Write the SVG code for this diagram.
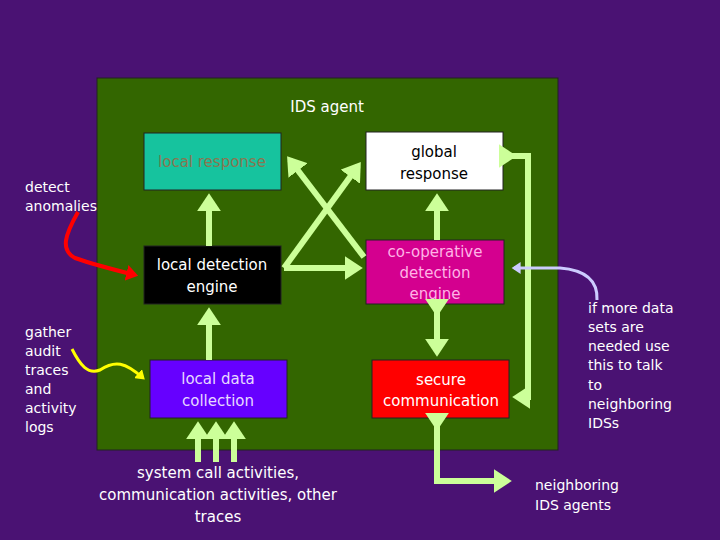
<svg xmlns="http://www.w3.org/2000/svg" width="720" height="540" viewBox="0 0 720 540">
<defs>
<marker id="g" markerWidth="4" markerHeight="4" refX="2.2" refY="2" orient="auto" markerUnits="strokeWidth"><path d="M0,0 L3,2 L0,4 z" fill="#ccff99"/></marker>
<marker id="r" markerWidth="4" markerHeight="4" refX="2.2" refY="2" orient="auto" markerUnits="strokeWidth"><path d="M0,0 L3,2 L0,4 z" fill="#ff0000"/></marker>
<marker id="y" markerWidth="4" markerHeight="4" refX="2.2" refY="2" orient="auto" markerUnits="strokeWidth"><path d="M0,0 L3,2 L0,4 z" fill="#ffff00"/></marker>
<marker id="l" markerWidth="4" markerHeight="4" refX="2.2" refY="2" orient="auto" markerUnits="strokeWidth"><path d="M0,0 L3,2 L0,4 z" fill="#ccccff"/></marker>
</defs>
<style>
text{font-family:"DejaVu Sans",sans-serif;font-size:15px;text-anchor:middle}
.box{stroke:#222;stroke-width:1}
.a{stroke:#ccff99;stroke-width:6;fill:none;marker-end:url(#g)}
.ab{stroke:#ccff99;stroke-width:6;fill:none;marker-end:url(#g);marker-start:url(#g)}
.n{fill:#ffffff;font-size:14px;text-anchor:start}
</style>
<rect width="720" height="540" fill="#4a1273"/>
<g id="agent"><rect x="97" y="78" width="461" height="372" fill="#336600" stroke="#222"/>
<text x="327" y="112" fill="#fff" font-size="17">IDS agent</text></g>
<g id="local-response"><rect class="box" x="144" y="133" width="137" height="57" fill="#16c39e"/><text x="212" y="167" fill="#8a7550">local response</text></g>
<g id="global-response"><rect class="box" x="366" y="132" width="137" height="58" fill="#fff"/><text x="434" y="157" fill="#000">global</text><text x="434" y="179" fill="#000">response</text></g>
<g id="local-detection"><rect class="box" x="144" y="246" width="137" height="58" fill="#000"/><text x="212" y="270" fill="#fff">local detection</text><text x="212" y="292" fill="#fff">engine</text></g>
<g id="coop"><rect class="box" x="366" y="240" width="138" height="64" fill="#d4008f"/><text x="435" y="257" fill="#ffb3e6">co-operative</text><text x="435" y="278" fill="#ffb3e6">detection</text><text x="435" y="299" fill="#ffb3e6">engine</text></g>
<g id="local-data"><rect class="box" x="150" y="360" width="137" height="58" fill="#6600ff"/><text x="218" y="384" fill="#e6d9ff">local data</text><text x="218" y="406" fill="#e6d9ff">collection</text></g>
<g id="secure"><rect class="box" x="372" y="360" width="137" height="58" fill="#ff0000"/><text x="441" y="385" fill="#fff">secure</text><text x="441" y="406" fill="#fff">communication</text></g>
<g id="connectors">
<line class="a" x1="209" y1="246" x2="209" y2="198"/>
<line class="a" x1="209" y1="360" x2="209" y2="312"/>
<line class="a" x1="284" y1="268" x2="358" y2="166"/>
<line class="a" x1="364" y1="257" x2="290" y2="160"/>
<line class="a" x1="284" y1="268" x2="358" y2="268"/>
<line class="a" x1="437" y1="240" x2="437" y2="198"/>
<line class="ab" x1="437" y1="312" x2="437" y2="352"/>
<polyline class="ab" points="512,156 528,156 528,397 517,397"/>
<polyline class="ab" points="437,426 437,481 507,481"/>
<line class="a" x1="198" y1="462" x2="198" y2="426"/>
<line class="a" x1="216" y1="462" x2="216" y2="426"/>
<line class="a" x1="234" y1="462" x2="234" y2="426"/>
<path d="M78,212 C65,235 60,250 75,258 C95,265 115,270 135,275" stroke="#ff0000" stroke-width="4" fill="none" marker-end="url(#r)"/>
<path d="M72,349 C80,365 88,375 100,370 C115,360 125,362 143,378" stroke="#ffff00" stroke-width="3" fill="none" marker-end="url(#y)"/>
<path d="M597,300 C598,280 585,270 560,268 L514,268" stroke="#ccccff" stroke-width="3" fill="none" marker-end="url(#l)"/>
</g>
<g id="labels">
<text class="n" x="25" y="192">detect</text><text class="n" x="25" y="211">anomalies</text>
<text class="n" x="25" y="337">gather</text><text class="n" x="25" y="356">audit</text><text class="n" x="25" y="375">traces</text><text class="n" x="25" y="394">and</text><text class="n" x="25" y="413">activity</text><text class="n" x="25" y="432">logs</text>
<text class="n" x="588" y="313">if more data</text><text class="n" x="588" y="332">sets are</text><text class="n" x="588" y="351">needed use</text><text class="n" x="588" y="370">this to talk</text><text class="n" x="588" y="390">to</text><text class="n" x="588" y="409">neighboring</text><text class="n" x="588" y="428">IDSs</text>
<text x="218" y="478" fill="#fff" font-size="16">system call activities,</text>
<text x="218" y="500" fill="#fff" font-size="16">communication activities, other</text>
<text x="218" y="522" fill="#fff" font-size="16">traces</text>
<text class="n" x="535" y="490" font-size="16">neighboring</text><text class="n" x="535" y="510" font-size="16">IDS agents</text>
</g>
</svg>
